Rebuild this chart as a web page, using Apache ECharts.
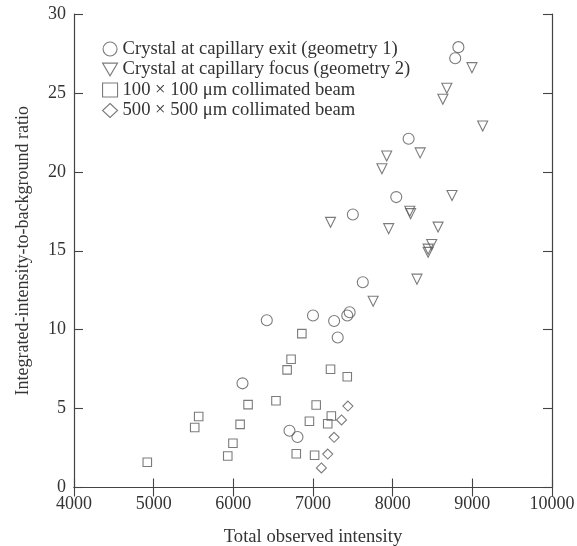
<!DOCTYPE html>
<html><head><meta charset="utf-8">
<script src="https://cdn.jsdelivr.net/npm/echarts@6/dist/echarts.min.js"></script>
<style>html,body{margin:0;padding:0;background:#fff}#c{width:577px;height:546px}</style>
</head><body><div id="c"></div>
<script>
var seriesNames = [
  'Crystal at capillary exit (geometry 1)',
  'Crystal at capillary focus (geometry 2)',
  '100 \u00d7 100 \u03bcm collimated beam',
  '500 \u00d7 500 \u03bcm collimated beam'
];
var xTicks = [4000, 5000, 6000, 7000, 8000, 9000, 10000];
var yTicks = [0, 5, 10, 15, 20, 25, 30];

var geom1 = [[8825,27.9],[8785,27.2],[8200,22.1],[8045,18.4],[7500,17.3],[7625,13.0],
  [7000,10.9],[7265,10.55],[7430,10.9],[7460,11.1],[7310,9.5],[6420,10.6],[6115,6.6],[6705,3.6],[6805,3.2]];
var geom2 = [[8995,26.6],[8680,25.3],[8630,24.6],[9130,22.9],[8345,21.2],[7925,21.0],[7865,20.2],
  [8745,18.5],[8215,17.5],[8225,17.35],[7220,16.8],[7950,16.4],[8570,16.5],[8490,15.4],[8445,15.1],
  [8445,14.9],[8305,13.2],[7755,11.8]];
var beam100 = [[4920,1.6],[5515,3.8],[5565,4.5],[5930,2.0],[5995,2.8],[6085,4.0],[6185,5.25],
  [6535,5.5],[6675,7.45],[6725,8.13],[6860,9.75],[6790,2.14],[6955,4.2],[7020,2.04],[7040,5.23],
  [7185,4.04],[7220,7.49],[7230,4.53],[7430,7.02]];
var beam500 = [[7105,1.24],[7185,2.12],[7265,3.18],[7358,4.28],[7438,5.16]];

var fontFam = '"Liberation Serif","DejaVu Serif",serif';
var txt = '#333';
var lineCol = '#444';
var mk = '#5a5a5a';

function sc(name, data, symbol, size, rot) {
  return {
    type: 'scatter', name: name, data: data, symbol: symbol, symbolSize: size,
    symbolRotate: rot || 0,
    itemStyle: { color: 'rgba(255,255,255,0)', borderColor: mk, borderWidth: 1.1 },
    emphasis: { disabled: true }
  };
}

var chart = echarts.init(document.getElementById('c'), null, { renderer: 'canvas' });
var baseAxis = {
  axisLine: { show: true, lineStyle: { color: lineCol, width: 1.2 } },
  axisTick: { show: true, inside: true, length: 9, lineStyle: { color: lineCol, width: 1.1 } },
  splitLine: { show: false }
};
var plain = function (v) { return String(v); };
chart.setOption({
  backgroundColor: '#fff',
  animation: false,
  textStyle: { fontFamily: fontFam },
  grid: { left: 74, right: 25, top: 14, bottom: 58.5, containLabel: false, outerBoundsMode: 'none' },
  legend: {
    orient: 'vertical', left: 102, top: 39.5, padding: 0, itemWidth: 15, itemHeight: 14, itemGap: 1.5,
    data: [
      { name: seriesNames[0], icon: 'circle' },
      { name: seriesNames[1], icon: 'path://M0,0L20,0L10,17Z' },
      { name: seriesNames[2], icon: 'rect' },
      { name: seriesNames[3], icon: 'diamond' }
    ],
    itemStyle: { color: 'rgba(255,255,255,0)', borderColor: mk, borderWidth: 1.1 },
    textStyle: { fontFamily: fontFam, fontSize: 18.6, lineHeight: 18, color: txt },
    selectedMode: false
  },
  xAxis: [
    Object.assign({}, baseAxis, {
      type: 'value', min: xTicks[0], max: xTicks[xTicks.length-1], interval: 1000,
      name: 'Total observed intensity', nameLocation: 'middle', nameGap: 40,
      nameTextStyle: { fontFamily: fontFam, fontSize: 18.6, color: txt },
      axisLabel: { fontFamily: fontFam, fontSize: 18, color: txt, margin: 8, formatter: plain }
    }),
    Object.assign({}, baseAxis, {
      type: 'value', position: 'top', min: xTicks[0], max: xTicks[xTicks.length-1], interval: 1000,
      axisLabel: { show: false }
    })
  ],
  yAxis: [
    Object.assign({}, baseAxis, {
      type: 'value', min: yTicks[0], max: yTicks[yTicks.length-1], interval: 5,
      name: 'Integrated-intensity-to-background ratio', nameLocation: 'middle', nameGap: 42,
      nameTextStyle: { fontFamily: fontFam, fontSize: 18, color: txt },
      axisLabel: { fontFamily: fontFam, fontSize: 18, color: txt, margin: 8, formatter: plain }
    }),
    Object.assign({}, baseAxis, {
      type: 'value', position: 'right', min: yTicks[0], max: yTicks[yTicks.length-1], interval: 5,
      axisLabel: { show: false }
    })
  ],
  series: [
    sc(seriesNames[0], geom1, 'circle', 11),
    sc(seriesNames[1], geom2, 'triangle', 10, 180),
    sc(seriesNames[2], beam100, 'rect', 8.5),
    sc(seriesNames[3], beam500, 'diamond', 10)
  ]
});
</script></body></html>
